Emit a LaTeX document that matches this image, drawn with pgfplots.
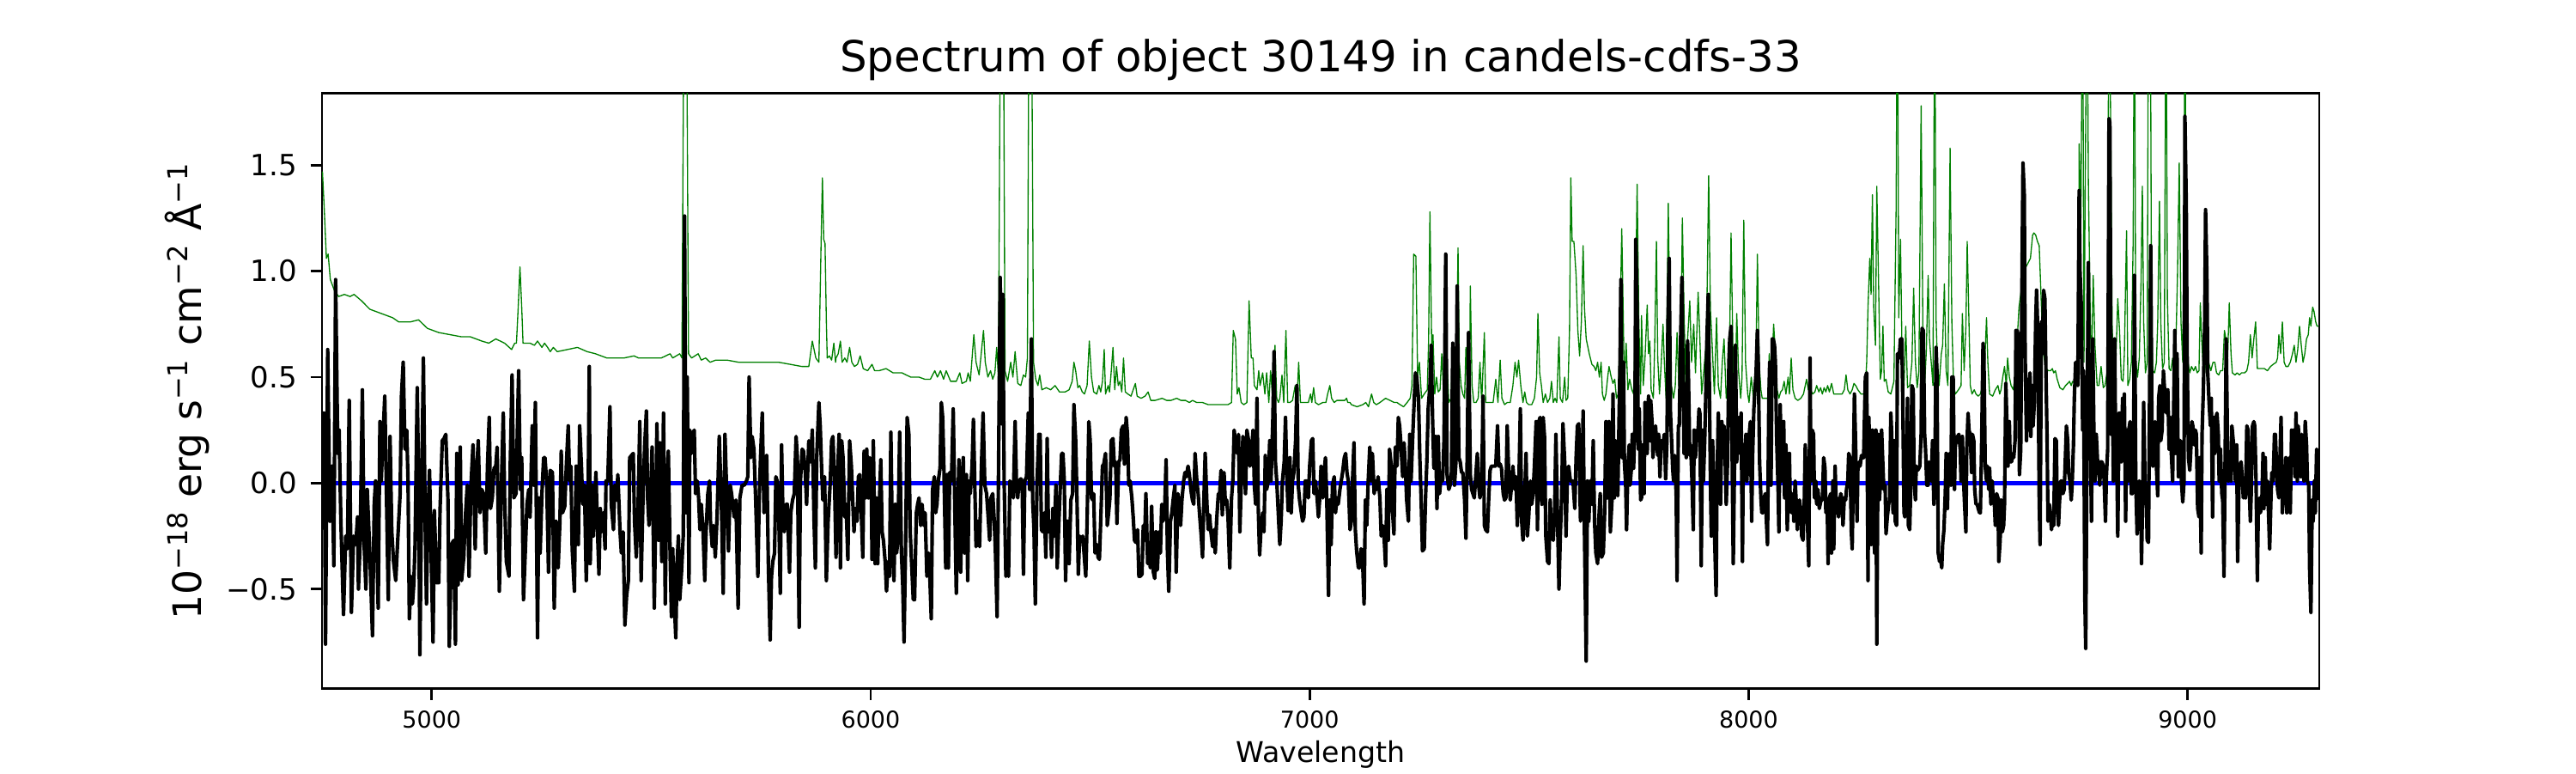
\documentclass[border=0pt]{standalone}
\usepackage{fontspec}
\setmainfont{DejaVu Sans}
\usepackage{pgfplots}
\pgfplotsset{compat=1.18}
\definecolor{mplgreen}{RGB}{0,128,0}
\definecolor{mplblue}{RGB}{0,0,255}
\begin{document}
\begin{tikzpicture}
\useasboundingbox (-1.25in,-0.3277in) rectangle (8.75in,2.6723in);
\begin{axis}[
  at={(0,0)}, anchor=south west,
  scale only axis, width=7.7533in, height=2.3113in,
  xmin=4750, xmax=9300, ymin=-0.97, ymax=1.84,
  axis line style={line width=0.65pt},
  every tick/.style={black, line width=0.65pt},
  tick align=outside, xtick pos=left, ytick pos=left,
  major tick length=3.2pt,
  xtick={5000,6000,7000,8000,9000},
  xticklabels={5000,6000,7000,8000,9000},
  ytick={-0.5,0,0.5,1,1.5},
  yticklabels={−0.5,0.0,0.5,1.0,1.5},
  xticklabel shift=2.8pt, yticklabel shift=3.6pt,
  xticklabel style={font=\fontsize{6.5}{8}\selectfont, inner sep=0pt, anchor=north},
  yticklabel style={font=\fontsize{8.2}{10}\selectfont, inner sep=0pt, anchor=east},
  title={Spectrum of object 30149 in candels-cdfs-33},
  title style={at={(0.5,1)}, anchor=base, font=\fontsize{12}{14}\selectfont},
  xlabel={Wavelength},
  xlabel style={at={(0.5,0)}, anchor=base, yshift=-20.6pt, font=\fontsize{8}{10}\selectfont},
  ylabel={10\textsuperscript{−18} erg s\textsuperscript{−1} cm\textsuperscript{−2} Å\textsuperscript{−1}},
  ylabel style={at={(-0.0602,0.5)}, anchor=base, font=\fontsize{11}{13}\selectfont},
]
\addplot[mplblue, line width=1.2pt] coordinates {(4781,0) (9287,0)};
\addplot[mplgreen, line width=0.32pt, line join=round] coordinates {
(4751,1.47)(4755,1.30)(4760,1.06)(4764,1.08)(4769,0.96)(4778,0.91)(4788,0.88)(4801,0.89)(4814,0.88)(4823,0.89)(4840,0.86)(4859,0.82)(4885,0.80)(4911,0.78)(4925,0.76)(4951,0.76)(4970,0.77)(4990,0.73)(5016,0.71)(5042,0.70)(5068,0.69)(5088,0.69)(5114,0.67)(5130,0.66)(5146,0.68)(5166,0.66)(5182,0.63)(5189,0.66)(5193,0.66)(5197,0.83)(5201,1.02)(5205,0.83)(5208,0.66)(5224,0.66)(5234,0.65)(5241,0.67)(5251,0.64)(5257,0.66)(5264,0.64)(5270,0.62)(5277,0.64)(5286,0.62)(5309,0.63)(5332,0.64)
(5354,0.62)(5373,0.61)(5399,0.59)(5419,0.59)(5438,0.59)(5461,0.60)(5471,0.59)(5497,0.59)(5523,0.59)(5543,0.61)(5549,0.59)(5565,0.61)(5570,0.59)(5575,2.5)(5580,2.5)(5585,0.61)(5592,0.59)(5607,0.61)(5614,0.58)(5624,0.59)(5634,0.57)(5647,0.58)(5673,0.58)(5699,0.57)(5725,0.57)(5764,0.57)(5790,0.57)(5817,0.56)(5843,0.55)(5859,0.55)(5867,0.67)(5875,0.59)(5882,0.57)(5887,1.13)(5890,1.44)(5893,1.15)(5896,1.13)(5899,0.76)(5901,0.59)(5906,0.60)(5911,0.58)(5916,0.66)(5920,0.57)
(5921,0.59)(5926,0.61)(5931,0.67)(5935,0.57)(5941,0.59)(5946,0.57)(5952,0.64)(5957,0.57)(5963,0.55)(5970,0.56)(5976,0.60)(5983,0.54)(5993,0.53)(6003,0.56)(6009,0.53)(6019,0.53)(6035,0.54)(6051,0.52)(6071,0.52)(6091,0.50)(6110,0.50)(6123,0.49)(6136,0.49)(6146,0.53)(6152,0.50)(6159,0.53)(6166,0.49)(6172,0.53)(6182,0.48)(6195,0.48)(6203,0.52)(6208,0.47)(6218,0.48)(6222,0.52)(6227,0.48)(6235,0.70)(6240,0.57)(6247,0.51)(6257,0.72)(6261,0.57)(6267,0.50)(6273,0.53)(6278,0.49)(6283,0.52)(6287,0.64)(6291,0.50)(6296,2.5)(6302,2.5)(6306,0.53)(6312,0.48)(6319,0.57)(6324,0.50)(6329,0.62)(6335,0.47)(6342,0.46)(6348,0.51)(6353,0.50)(6357,0.59)(6361,2.5)(6366,2.5)(6371,0.57)(6376,0.49)(6381,0.46)(6385,0.51)(6390,0.44)(6400,0.45)(6410,0.44)(6420,0.46)(6430,0.43)(6443,0.43)(6452,0.44)(6459,0.48)(6463,0.57)(6467,0.53)(6472,0.45)(6476,0.46)(6482,0.43)(6487,0.42)(6493,0.46)(6498,0.67)(6503,0.50)
(6508,0.43)(6515,0.42)(6520,0.46)(6524,0.43)(6528,0.48)(6532,0.63)(6535,0.42)(6541,0.46)(6544,0.43)(6547,0.50)(6552,0.64)(6556,0.44)(6560,0.55)(6564,0.46)(6568,0.48)(6572,0.43)(6576,0.59)(6580,0.43)(6586,0.42)(6593,0.41)(6598,0.44)(6603,0.47)(6607,0.41)(6616,0.40)(6625,0.41)(6632,0.43)(6638,0.39)(6648,0.39)(6664,0.40)(6674,0.39)(6684,0.39)(6697,0.40)(6707,0.39)(6717,0.39)(6726,0.38)(6733,0.39)(6743,0.38)(6756,0.38)(6769,0.37)(6785,0.37)(6795,0.37)(6814,0.37)(6822,0.38)(6826,0.72)(6831,0.68)(6835,0.42)(6839,0.45)(6844,0.38)(6850,0.37)(6857,0.38)(6862,0.86)(6867,0.59)(6871,0.59)(6874,0.46)(6880,0.44)(6884,0.53)(6887,0.46)(6893,0.52)(6898,0.42)(6902,0.52)(6907,0.38)(6911,0.53)(6916,0.39)(6921,0.65)(6925,0.40)(6929,0.38)(6932,0.40)(6937,0.51)(6941,0.38)(6946,0.72)(6950,0.38)(6955,0.38)(6961,0.39)(6967,0.46)(6971,0.38)(6975,0.57)(6979,0.38)(6984,0.38)(6990,0.38)(6997,0.38)(7002,0.42)(7005,0.38)(7009,0.45)(7013,0.38)(7020,0.37)(7030,0.38)(7037,0.38)(7041,0.42)(7046,0.46)(7050,0.40)(7056,0.38)(7062,0.39)(7069,0.39)(7075,0.39)(7080,0.39)(7084,0.40)(7087,0.38)(7092,0.38)
(7095,0.37)(7108,0.36)(7121,0.37)(7128,0.38)(7134,0.36)(7141,0.42)(7146,0.38)(7152,0.37)(7160,0.38)(7173,0.40)(7183,0.39)(7193,0.38)(7199,0.38)(7206,0.37)(7214,0.36)(7222,0.38)(7229,0.40)(7233,0.46)(7237,1.08)(7242,1.07)(7246,0.50)(7250,0.57)(7255,0.40)(7261,0.42)(7268,0.44)(7271,0.67)(7274,1.28)(7278,0.65)(7281,0.70)(7285,0.42)(7289,0.50)(7293,0.43)(7297,0.44)(7301,0.61)(7305,0.42)(7309,0.38)(7313,0.57)(7317,0.38)(7322,0.40)(7326,0.66)(7330,0.44)(7334,0.46)(7338,1.11)(7341,0.57)(7345,0.46)(7349,0.42)(7353,0.40)(7356,0.64)(7360,0.42)(7364,0.40)(7366,0.93)(7370,0.46)(7374,0.38)(7379,0.38)(7384,0.40)(7388,0.57)(7392,0.38)(7398,0.71)(7401,0.38)(7405,0.38)(7411,0.38)(7418,0.38)(7424,0.49)(7429,0.38)(7434,0.58)(7438,0.40)(7444,0.37)(7450,0.38)(7457,0.38)(7463,0.46)(7468,0.57)(7472,0.50)(7476,0.58)(7481,0.46)(7486,0.38)(7490,0.43)(7494,0.38)(7499,0.37)(7506,0.37)(7512,0.40)(7517,0.50)(7520,0.80)(7524,0.52)(7528,0.46)(7532,0.38)(7537,0.42)(7542,0.38)(7547,0.40)(7551,0.48)(7555,0.38)(7559,0.40)(7563,0.38)(7568,0.69)(7571,0.40)(7576,0.38)(7581,0.50)(7584,0.39)(7588,0.40)(7592,0.72)(7595,1.44)(7598,1.14)(7602,1.14)(7607,0.98)(7611,0.72)(7615,0.60)(7619,0.76)(7623,1.12)(7626,0.83)(7630,0.68)(7633,0.65)(7637,0.61)(7643,0.56)(7648,0.55)(7652,0.53)(7656,0.57)(7660,0.50)(7664,0.57)(7667,0.42)(7671,0.39)(7675,0.42)(7679,0.50)
(7682,0.55)(7687,0.50)(7691,0.47)(7695,0.49)(7699,0.40)(7703,0.42)(7707,0.72)(7711,1.20)(7713,0.97)(7717,0.46)(7721,0.66)(7725,0.44)(7729,0.49)(7734,0.44)(7738,0.42)(7742,0.76)(7746,1.41)(7750,0.76)(7754,0.42)(7756,0.79)(7760,0.46)(7764,0.59)(7769,0.84)(7772,0.61)(7775,0.67)(7778,0.44)(7783,0.40)(7786,0.65)(7790,1.14)(7793,0.59)(7797,0.42)(7801,0.57)(7805,0.75)(7808,0.57)(7812,0.40)(7817,1.32)(7821,0.67)(7824,0.46)(7829,0.40)(7833,0.46)(7837,0.71)(7841,0.46)(7845,0.44)(7849,1.25)(7853,0.80)(7857,0.44)(7861,0.68)(7866,0.86)(7870,0.57)(7875,0.75)(7879,0.52)(7885,0.90)(7889,0.68)(7893,0.42)(7898,0.53)(7904,0.68)(7909,1.45)(7913,0.82)(7917,0.65)(7922,0.42)(7927,0.78)(7931,0.46)(7936,0.40)(7940,0.57)(7944,0.68)(7949,0.40)(7956,0.53)(7960,1.18)(7965,0.53)(7969,0.40)(7973,0.80)(7977,0.53)(7982,0.40)(7985,0.50)(7989,1.24)(7993,0.57)(7998,0.42)(8001,0.38)(8006,0.50)(8011,0.40)(8016,0.46)(8020,1.08)(8024,0.57)(8028,0.44)(8031,0.40)(8037,0.40)(8044,0.40)(8047,0.61)(8051,0.42)(8057,0.75)(8060,0.65)(8065,0.44)(8069,0.40)(8073,0.43)(8077,0.44)(8081,0.48)(8085,0.42)(8090,0.50)(8093,0.42)(8097,0.59)(8101,0.44)(8106,0.40)(8112,0.39)(8119,0.40)(8125,0.42)(8132,0.49)(8136,0.44)(8141,0.44)(8146,0.42)(8151,0.43)(8155,0.46)(8160,0.43)(8164,0.45)(8168,0.42)(8172,0.45)(8176,0.43)(8180,0.46)(8184,0.43)(8189,0.47)(8194,0.42)(8200,0.42)(8207,0.42)(8213,0.42)(8218,0.44)(8222,0.51)(8226,0.44)(8231,0.42)(8236,0.44)(8240,0.47)(8244,0.46)(8249,0.44)(8256,0.42)(8262,0.42)(8266,0.46)
(8269,0.57)(8272,0.83)(8276,1.06)(8279,0.89)(8282,1.36)(8285,0.83)(8289,0.65)(8292,1.40)(8296,0.95)(8300,0.49)(8303,0.53)(8306,0.74)(8309,0.48)(8313,0.49)(8318,0.43)(8324,0.42)(8331,0.48)(8336,1.29)(8339,2.5)(8342,0.78)(8346,1.15)(8350,0.53)(8354,0.46)(8358,0.74)(8362,0.45)(8367,0.46)(8372,0.57)(8376,0.92)(8380,0.57)(8384,0.45)(8388,0.53)(8393,1.78)(8397,0.72)(8401,0.46)(8405,0.63)(8409,0.98)(8412,0.68)(8416,0.57)(8420,0.46)(8424,2.5)(8427,0.78)(8430,0.57)(8434,0.46)(8439,0.61)(8442,0.65)(8446,0.94)(8450,0.53)(8454,0.46)(8459,1.58)(8463,0.76)(8467,0.46)(8471,0.42)(8478,0.44)(8484,0.46)(8487,0.80)(8491,0.53)(8495,0.74)(8498,1.14)(8502,0.76)(8505,0.46)(8509,0.42)(8514,0.44)(8518,0.42)(8523,0.41)(8528,0.42)(8533,0.46)(8538,0.57)(8542,0.78)(8545,0.57)(8549,0.42)(8556,0.41)(8562,0.44)(8568,0.46)(8572,0.42)(8575,0.44)(8579,0.50)(8583,0.55)(8587,0.46)(8590,0.59)(8594,0.50)(8598,0.46)(8603,0.44)(8608,0.53)(8612,0.68)(8616,0.83)(8621,0.91)(8626,1.00)(8632,1.02)(8637,1.04)(8642,1.06)(8647,1.17)(8650,1.18)(8654,1.17)(8658,1.14)(8662,1.12)(8665,0.95)(8669,0.72)(8673,0.59)(8678,0.54)(8683,0.53)(8688,0.53)(8692,0.54)(8695,0.52)(8699,0.53)(8703,0.49)(8709,0.45)(8716,0.44)(8722,0.46)(8727,0.47)(8731,0.48)(8735,0.46)(8738,0.48)(8744,0.47)(8748,0.50)(8751,0.53)(8753,1.60)(8757,1.25)(8761,2.5)(8764,0.57)(8767,1.45)(8771,2.5)(8774,1.42)(8778,0.83)(8781,0.53)(8785,0.98)(8789,0.65)(8794,0.46)(8798,0.46)(8803,0.55)(8808,0.45)(8812,0.46)(8817,0.53)(8821,2.5)(8825,1.66)(8828,0.76)(8832,0.46)(8836,0.53)(8841,0.87)(8845,0.72)(8849,0.49)(8853,0.48)
(8856,0.61)(8861,1.19)(8864,0.46)(8868,0.49)(8872,0.57)(8876,1.14)(8879,2.5)(8882,0.57)(8886,0.50)(8890,0.59)(8894,0.95)(8897,1.40)(8900,0.76)(8904,0.52)(8908,0.57)(8911,2.5)(8915,2.5)(8918,0.72)(8921,0.53)(8925,0.52)(8929,0.57)(8932,0.76)(8936,1.33)(8939,0.76)(8943,0.54)(8947,0.57)(8951,2.5)(8954,0.87)(8958,0.54)(8962,0.53)(8966,0.59)(8969,0.53)(8973,0.61)(8977,0.98)(8981,1.51)(8985,0.76)(8989,0.57)(8992,1.32)(8994,2.5)(8997,0.83)(9001,0.57)(9005,0.52)(9009,0.55)(9014,0.53)(9018,0.55)(9022,0.52)(9026,0.53)(9029,0.85)(9032,0.68)(9036,0.53)(9040,0.57)(9044,0.50)(9048,0.57)(9053,0.53)(9058,0.57)(9062,0.57)(9066,0.52)(9071,0.51)(9075,0.53)(9080,0.53)(9084,0.72)(9088,0.67)(9091,0.57)(9095,0.85)(9099,0.61)(9102,0.52)(9108,0.51)(9113,0.52)(9118,0.51)(9123,0.52)(9130,0.52)(9135,0.53)(9139,0.57)(9143,0.70)(9147,0.59)(9151,0.68)(9155,0.76)(9159,0.54)(9164,0.54)(9169,0.54)(9175,0.54)(9182,0.53)(9189,0.55)(9195,0.56)(9202,0.57)(9205,0.59)(9208,0.70)(9212,0.61)(9216,0.76)(9220,0.57)(9224,0.55)(9229,0.55)(9234,0.57)(9239,0.61)(9243,0.65)(9247,0.57)(9251,0.63)(9255,0.74)(9259,0.65)(9263,0.57)(9267,0.61)(9271,0.68)(9275,0.70)(9278,0.78)(9281,0.74)(9285,0.83)(9288,0.81)(9292,0.76)(9295,0.74)(9299,0.74)
};
\addplot[black, line width=1pt, line join=round] coordinates {
(4751,0.33)(4755,0.33)(4758,-0.76)(4763,0.63)(4768,-0.18)(4773,0.08)(4777,-0.39)(4781,0.96)(4786,0.14)(4789,0.25)(4793,-0.18)(4799,-0.62)(4804,-0.25)(4808,-0.31)(4812,0.39)(4817,-0.61)(4822,-0.25)(4827,-0.29)(4831,-0.16)(4833,-0.50)(4837,-0.27)(4842,0.44)(4846,-0.29)(4850,-0.50)(4853,-0.03)(4856,-0.18)(4859,-0.33)(4865,-0.72)(4869,-0.10)(4872,0.01)(4878,-0.59)(4882,0.29)(4885,0.01)(4889,0.22)(4893,0.41)(4897,-0.07)(4901,-0.55)(4905,0.22)(4909,-0.23)(4913,-0.37)(4918,-0.46)(4922,-0.29)(4928,-0.05)(4931,0.41)(4935,0.57)(4939,0.16)(4943,0.25)(4946,0.01)(4949,-0.64)(4953,-0.44)(4956,-0.57)(4959,-0.48)(4962,-0.29)(4967,0.45)(4970,0.01)(4973,-0.81)(4977,-0.05)(4981,0.59)(4985,-0.18)(4988,-0.57)(4991,-0.18)(4995,0.06)(4999,-0.37)(5003,-0.75)(5006,-0.13)(5011,-0.47)(5016,-0.47)(5019,-0.12)(5024,0.20)(5028,0.21)(5032,0.23)(5037,-0.08)(5040,-0.77)(5045,-0.29)(5050,-0.27)(5054,-0.76)(5057,0.14)(5060,-0.48)(5065,0.17)(5068,-0.46)(5073,-0.35)(5076,-0.18)(5081,-0.01)(5085,-0.44)(5089,-0.03)(5094,0.18)(5099,-0.31)(5103,0.08)(5106,0.20)(5110,-0.14)(5114,-0.03)(5118,-0.05)(5123,-0.33)(5127,0.08)(5131,0.31)(5134,-0.12)(5138,-0.07)(5142,0.07)(5146,0.08)(5149,0.17)(5154,-0.51)(5158,-0.07)(5163,0.33)(5166,-0.07)(5170,-0.37)(5176,-0.44)(5179,0.10)(5183,0.51)(5187,-0.07)(5192,-0.05)(5198,0.53)(5202,-0.03)(5205,0.12)(5209,-0.55)(5213,-0.33)(5217,-0.10)(5221,-0.03)(5224,-0.16)(5229,0.27)(5233,-0.01)(5236,0.38)(5241,-0.73)(5244,-0.07)(5247,-0.33)(5251,-0.05)(5255,0.12)(5258,0.12)(5262,0.00)(5266,-0.42)(5270,0.06)(5275,0.05)(5279,-0.59)(5283,-0.18)(5288,-0.40)(5292,-0.18)(5295,0.15)(5298,-0.14)(5303,-0.11)(5307,0.10)(5311,0.27)(5314,0.01)(5317,0.08)(5320,-0.31)(5325,-0.51)(5329,0.08)
(5334,-0.29)(5337,0.27)(5341,0.08)(5344,-0.10)(5348,-0.01)(5352,-0.46)(5356,-0.12)(5359,0.55)(5361,-0.38)(5365,-0.01)(5368,-0.25)(5371,-0.12)(5374,0.05)(5378,-0.25)(5381,-0.43)(5384,-0.12)(5387,-0.23)(5391,-0.14)(5395,-0.31)(5397,0.01)(5401,0.01)(5406,0.36)(5409,-0.10)(5414,-0.22)(5417,-0.01)(5421,-0.08)(5424,0.04)(5429,-0.23)(5432,-0.33)(5436,-0.23)(5440,-0.67)(5444,-0.53)(5448,-0.46)(5451,0.12)(5455,0.13)(5459,0.14)(5462,-0.18)(5466,-0.35)(5470,-0.12)(5474,0.29)(5477,-0.46)(5481,-0.10)(5485,0.17)(5489,0.34)(5492,-0.08)(5495,-0.20)(5498,-0.10)(5502,0.17)(5507,-0.59)(5510,-0.18)(5513,0.28)(5517,-0.27)(5520,0.19)(5524,-0.37)(5528,0.33)(5532,-0.57)(5535,-0.08)(5539,0.15)(5543,-0.33)(5546,-0.63)(5549,-0.31)(5552,-0.53)(5556,-0.73)(5559,-0.37)(5562,-0.25)(5565,-0.55)(5569,-0.42)(5573,-0.25)(5576,1.26)(5579,-0.14)(5582,0.50)(5586,-0.47)(5588,0.25)(5592,0.14)(5595,0.23)(5598,0.25)(5601,-0.05)(5605,0.01)(5608,-0.07)(5611,-0.22)(5614,-0.10)(5618,-0.22)(5622,-0.46)(5625,-0.23)(5629,-0.05)(5633,0.01)(5635,-0.18)(5639,-0.30)(5642,-0.20)(5646,-0.35)(5650,-0.16)(5655,0.22)(5660,-0.10)(5664,-0.52)(5668,0.23)(5672,-0.05)(5676,-0.32)(5680,-0.01)(5683,-0.05)(5689,-0.16)(5693,-0.08)(5698,-0.59)(5702,-0.07)(5707,-0.01)(5712,-0.01)(5717,0.01)(5720,0.03)(5723,0.50)(5727,0.12)(5730,0.22)(5734,0.16)(5738,-0.08)(5743,-0.44)(5746,-0.08)(5749,0.12)(5753,0.33)(5757,-0.14)(5760,-0.12)(5763,0.13)(5767,-0.40)(5771,-0.74)(5774,-0.44)(5777,-0.37)(5781,-0.33)(5784,0.03)(5787,0.01)(5790,-0.08)(5794,-0.52)(5797,0.18)(5800,-0.14)(5803,-0.23)(5807,-0.10)(5810,-0.10)(5815,-0.42)(5818,-0.14)(5822,-0.08)(5826,-0.05)(5830,0.22)(5833,0.12)(5837,-0.68)(5840,0.01)(5844,0.16)(5847,0.15)(5851,0.05)(5854,-0.10)(5859,0.20)(5863,0.10)(5867,0.25)(5871,-0.18)(5874,-0.40)(5877,0.12)(5882,0.38)(5885,0.27)(5888,0.08)(5891,-0.08)(5895,0.03)(5899,-0.46)(5903,-0.18)(5908,0.01)(5911,0.20)(5914,0.22)(5918,-0.03)
(5921,-0.35)(5924,0.01)(5928,0.23)(5931,-0.40)(5934,0.20)(5937,0.12)(5941,-0.16)(5944,-0.10)(5948,-0.36)(5952,0.20)(5956,0.08)(5959,-0.08)(5962,-0.23)(5965,-0.12)(5969,-0.18)(5972,0.03)(5975,0.04)(5978,-0.10)(5982,-0.35)(5985,0.15)(5988,-0.07)(5991,0.16)(5995,-0.07)(5998,0.12)(6001,0.08)(6003,-0.36)(6006,0.20)(6010,-0.38)(6013,-0.07)(6016,-0.38)(6019,-0.14)(6023,0.11)(6026,-0.23)(6029,-0.27)(6033,-0.37)(6036,-0.51)(6040,-0.37)(6043,-0.44)(6046,0.24)(6049,-0.23)(6053,-0.46)(6056,-0.10)(6059,-0.33)(6062,-0.27)(6066,0.24)(6070,-0.33)(6073,-0.48)(6076,-0.75)(6080,-0.22)(6083,0.31)(6087,0.23)(6090,-0.23)(6093,-0.37)(6097,-0.55)(6100,-0.55)(6104,-0.14)(6107,-0.10)(6110,-0.07)(6114,-0.20)(6117,-0.10)(6121,-0.20)(6124,-0.14)(6128,-0.44)(6132,-0.33)(6135,-0.46)(6138,-0.64)(6141,-0.03)(6145,0.03)(6148,-0.14)(6151,-0.10)(6154,0.01)(6158,0.07)(6161,0.38)(6164,0.31)(6167,0.05)(6171,-0.40)(6174,0.04)(6177,-0.40)(6180,0.05)(6184,0.01)(6188,0.35)(6192,-0.16)(6195,-0.52)(6198,-0.18)(6201,0.11)(6205,-0.42)(6208,0.01)(6211,0.12)(6214,-0.33)(6218,0.04)(6221,-0.46)(6224,0.01)(6227,-0.05)(6231,0.08)(6234,0.30)(6237,0.01)(6240,-0.30)(6244,-0.18)(6248,-0.30)(6252,0.06)(6256,0.33)(6260,-0.01)(6264,-0.05)(6267,-0.14)(6271,-0.27)(6274,-0.07)(6278,-0.05)(6281,-0.16)(6284,-0.31)(6288,-0.63)(6291,0.01)(6295,0.97)(6298,0.28)(6301,0.89)(6304,0.01)(6308,-0.44)(6311,-0.42)(6314,-0.44)(6317,0.01)(6321,-0.01)(6325,-0.07)(6329,0.29)(6332,0.01)(6335,-0.07)(6338,0.01)(6342,0.02)(6345,0.01)(6348,-0.43)(6351,0.01)(6355,0.03)(6359,0.33)(6362,-0.03)(6366,0.68)(6369,-0.08)(6372,-0.22)(6375,-0.57)(6379,0.01)(6383,0.23)(6386,0.23)(6389,-0.22)(6392,-0.23)(6396,-0.14)(6399,-0.35)(6402,0.21)(6405,-0.23)(6409,-0.18)(6412,-0.35)(6415,-0.12)(6418,-0.25)(6422,-0.01)(6425,-0.40)(6428,-0.22)(6432,-0.01)(6435,0.14)(6438,0.14)(6441,0.01)(6444,-0.46)(6447,-0.18)(6449,-0.18)(6452,-0.38)(6456,-0.08)(6460,-0.05)(6463,0.37)(6467,0.20)(6470,-0.08)(6473,-0.43)(6476,-0.25)(6480,-0.27)(6483,-0.25)(6486,-0.33)(6490,-0.44)(6493,-0.18)(6497,0.29)(6500,0.20)(6503,-0.07)(6506,-0.08)
(6508,-0.05)(6511,-0.33)(6515,-0.29)(6518,-0.35)(6521,-0.36)(6524,-0.18)(6528,0.08)(6531,0.09)(6535,0.14)(6539,-0.20)(6542,-0.14)(6545,-0.07)(6548,0.20)(6552,0.21)(6555,0.08)(6558,0.10)(6561,-0.19)(6565,0.10)(6568,0.11)(6571,0.25)(6575,0.27)(6578,0.09)(6582,0.31)(6585,0.23)(6588,-0.01)(6591,0.01)(6595,-0.07)(6598,-0.16)(6601,-0.27)(6604,-0.28)(6608,-0.22)(6611,-0.44)(6614,-0.44)(6618,-0.43)(6621,-0.20)(6624,-0.27)(6627,-0.05)(6631,-0.38)(6634,-0.31)(6637,-0.40)(6640,-0.11)(6644,-0.42)(6647,-0.45)(6650,-0.23)(6653,-0.41)(6657,-0.23)(6660,-0.33)(6663,-0.10)(6666,-0.18)(6670,-0.10)(6673,0.11)(6676,-0.32)(6679,-0.51)(6683,-0.18)(6686,-0.14)(6689,-0.08)(6693,-0.01)(6696,-0.42)(6700,-0.05)(6703,-0.10)(6706,-0.20)(6709,-0.08)(6713,0.01)(6716,0.05)(6719,0.03)(6723,0.08)(6726,0.04)(6730,-0.04)(6733,-0.08)(6736,-0.10)(6739,0.14)(6743,0.01)(6746,-0.05)(6749,-0.14)(6753,-0.25)(6756,-0.35)(6759,-0.08)(6762,0.14)(6766,-0.10)(6769,-0.22)(6772,-0.15)(6775,-0.23)(6779,-0.30)(6782,-0.22)(6785,-0.33)(6788,-0.18)(6792,-0.05)(6795,-0.05)(6798,0.06)(6801,-0.15)(6805,0.05)(6808,-0.10)(6811,-0.08)(6814,-0.16)(6818,-0.40)(6822,-0.07)(6825,0.01)(6828,0.25)(6831,0.19)(6835,0.14)(6838,0.23)(6841,-0.23)(6844,-0.01)(6848,0.22)(6851,0.08)(6854,-0.05)(6857,0.25)(6861,0.20)(6864,0.08)(6867,0.12)(6871,0.25)(6874,-0.01)(6877,-0.10)(6880,0.40)(6883,-0.12)(6886,-0.34)(6889,-0.22)(6893,-0.14)(6896,-0.23)(6899,0.13)(6902,-0.03)(6906,0.01)(6909,0.20)(6912,0.01)(6916,0.29)(6919,0.62)(6922,0.10)(6925,0.01)(6929,-0.16)(6932,-0.29)(6935,-0.18)(6938,0.01)(6942,0.10)(6945,0.31)(6948,0.03)(6951,-0.13)(6955,0.12)(6958,-0.14)(6961,0.01)(6964,0.05)(6968,0.20)(6971,0.46)(6974,-0.01)(6977,-0.08)(6981,-0.14)(6984,-0.18)(6987,-0.16)(6990,0.01)(6994,0.01)(6997,-0.07)(7000,0.08)(7004,0.20)(7007,0.21)(7010,-0.05)(7013,0.01)(7017,-0.07)(7020,-0.16)(7023,-0.07)(7026,0.08)(7030,-0.07)(7033,0.05)(7036,0.12)(7039,-0.08)(7043,-0.53)(7046,-0.08)(7049,-0.29)(7052,-0.01)(7056,0.03)(7059,-0.14)(7062,-0.07)(7065,-0.10)(7069,-0.03)(7072,0.01)(7075,0.05)(7079,0.12)(7082,0.14)(7085,0.05)(7088,0.01)(7092,-0.22)
(7095,-0.18)(7098,0.03)(7101,0.19)(7104,-0.22)(7107,-0.32)(7111,-0.40)(7114,-0.40)(7117,-0.31)(7120,-0.33)(7124,-0.57)(7127,-0.08)(7130,-0.20)(7133,-0.01)(7137,0.17)(7140,0.01)(7143,0.14)(7147,-0.05)(7150,0.01)(7153,-0.03)(7156,0.03)(7160,-0.07)(7163,-0.25)(7166,-0.20)(7169,-0.23)(7173,-0.39)(7176,-0.03)(7179,-0.27)(7182,0.16)(7186,0.08)(7189,-0.14)(7192,-0.24)(7195,0.17)(7199,0.08)(7202,0.31)(7205,0.27)(7208,0.18)(7212,0.03)(7215,0.19)(7218,0.08)(7221,-0.08)(7225,-0.18)(7228,0.23)(7231,0.01)(7235,0.23)(7238,0.38)(7241,0.52)(7244,0.50)(7248,0.40)(7251,0.12)(7254,-0.08)(7257,-0.32)(7261,-0.31)(7264,-0.07)(7267,0.10)(7270,0.35)(7274,0.46)(7277,0.65)(7280,0.31)(7283,0.07)(7287,0.22)(7290,-0.12)(7293,0.22)(7296,-0.05)(7300,0.05)(7303,0.01)(7306,0.20)(7310,1.08)(7313,0.04)(7317,-0.03)(7320,-0.01)(7323,0.05)(7326,0.66)(7330,-0.01)(7333,0.09)(7336,0.93)(7340,0.12)(7343,0.10)(7346,0.05)(7349,0.05)(7353,-0.08)(7356,-0.26)(7359,0.14)(7362,0.71)(7366,0.04)(7369,-0.03)(7372,-0.05)(7375,-0.07)(7379,0.05)(7382,0.14)(7385,-0.01)(7388,-0.07)(7392,-0.01)(7395,0.41)(7398,-0.20)(7401,-0.22)(7405,-0.23)(7408,-0.07)(7411,0.06)(7414,0.08)(7418,0.08)(7421,0.08)(7424,0.08)(7428,0.27)(7431,0.08)(7434,0.09)(7437,0.07)(7441,-0.05)(7444,-0.08)(7447,-0.07)(7450,0.27)(7454,0.01)(7457,-0.08)(7460,-0.01)(7463,0.08)(7467,-0.03)(7470,0.03)(7473,-0.20)(7476,-0.07)(7480,0.35)(7483,-0.18)(7486,-0.27)(7489,-0.12)(7493,0.14)(7496,-0.25)(7499,-0.16)(7503,0.01)(7506,-0.10)(7509,-0.05)(7512,0.08)(7516,0.29)(7519,-0.22)(7522,0.29)(7525,0.31)(7529,-0.10)(7532,0.31)(7535,0.22)(7538,-0.25)(7542,-0.37)(7545,-0.38)(7548,-0.08)(7551,-0.25)(7555,-0.27)(7558,-0.14)(7561,0.23)(7564,-0.10)(7568,-0.50)(7571,-0.25)(7574,-0.07)(7577,0.28)(7581,0.10)(7584,-0.25)(7587,0.01)(7590,0.08)(7594,0.01)(7597,0.01)(7600,0.01)(7604,-0.12)(7607,0.12)(7610,0.27)(7613,0.28)(7617,-0.18)(7620,-0.08)(7623,0.34)(7626,-0.22)(7630,-0.84)(7633,0.01)(7636,-0.18)(7639,0.01)(7643,-0.10)(7646,0.20)(7649,-0.18)(7652,-0.33)(7656,-0.38)(7659,-0.16)(7662,-0.05)(7665,-0.35)(7669,-0.33)(7672,-0.14)(7675,0.29)(7678,-0.07)
(7682,0.29)(7685,-0.23)(7689,-0.07)(7691,0.42)(7694,-0.07)(7696,0.20)(7699,-0.01)(7702,-0.06)(7704,0.20)(7707,0.57)(7709,0.96)(7712,0.12)(7715,0.57)(7717,0.10)(7720,-0.01)(7722,-0.22)(7725,0.08)(7728,0.18)(7730,-0.01)(7733,0.07)(7735,0.23)(7738,0.07)(7741,0.27)(7743,1.15)(7746,0.83)(7749,0.16)(7751,0.35)(7754,-0.08)(7756,-0.07)(7759,0.18)(7762,-0.05)(7764,0.38)(7767,0.27)(7769,0.14)(7772,0.41)(7775,0.20)(7777,0.39)(7780,0.29)(7782,0.12)(7785,0.20)(7788,0.27)(7790,0.20)(7793,0.13)(7795,0.23)(7798,0.03)(7801,0.20)(7803,0.16)(7806,0.20)(7808,0.23)(7811,0.02)(7814,0.20)(7816,0.73)(7819,1.06)(7822,0.33)(7824,0.23)(7827,0.07)(7829,0.01)(7832,0.13)(7835,-0.06)(7837,-0.46)(7840,0.27)(7842,0.27)(7845,0.67)(7848,0.97)(7850,0.61)(7853,0.14)(7855,0.23)(7858,0.12)(7861,0.67)(7863,0.50)(7866,0.13)(7868,0.18)(7871,0.01)(7874,-0.22)(7876,0.25)(7879,0.12)(7882,0.25)(7884,0.20)(7887,0.35)(7889,0.33)(7892,-0.39)(7895,0.25)(7897,0.01)(7900,0.20)(7902,0.38)(7905,0.68)(7908,0.89)(7910,0.57)(7913,0.01)(7915,-0.25)(7918,0.20)(7921,-0.03)(7923,-0.29)(7926,-0.53)(7928,0.01)(7931,0.33)(7934,-0.01)(7936,-0.10)(7939,0.29)(7941,0.16)(7944,0.27)(7947,0.08)(7949,-0.10)(7952,0.10)(7955,0.57)(7957,0.68)(7960,0.74)(7962,0.23)(7965,-0.38)(7968,0.11)(7970,0.65)(7973,0.10)(7975,0.27)(7978,0.31)(7981,0.14)(7983,0.33)(7986,-0.37)(7988,0.18)(7991,0.12)(7994,0.23)(7996,0.01)(7999,0.14)(8001,0.22)(8004,0.29)(8007,-0.18)(8009,0.12)(8012,0.35)(8015,0.46)(8017,0.52)(8020,0.72)(8022,0.57)(8025,0.10)(8028,-0.07)(8030,-0.14)(8033,-0.14)(8035,-0.07)(8038,-0.05)(8041,-0.20)(8043,-0.29)(8046,0.38)(8048,0.57)(8051,-0.01)(8054,0.68)(8056,0.68)(8059,0.65)(8061,0.57)(8064,0.20)(8067,-0.01)(8069,-0.23)(8072,0.37)(8075,0.01)(8077,0.18)(8080,0.29)(8082,-0.07)(8085,0.18)(8088,-0.22)(8090,-0.08)(8093,0.14)(8095,-0.12)(8098,-0.14)(8101,-0.05)(8103,-0.18)(8106,0.01)(8108,-0.07)(8111,-0.22)(8114,-0.10)(8116,-0.08)(8119,-0.14)(8121,-0.25)(8124,-0.27)(8127,-0.07)(8129,0.18)(8132,-0.10)(8134,-0.18)(8137,-0.39)(8140,0.59)(8142,0.01)(8145,0.25)(8148,0.23)(8150,-0.07)(8153,0.01)(8155,-0.10)(8158,-0.03)(8161,-0.12)(8163,-0.10)(8166,-0.07)(8168,-0.08)(8171,0.12)(8174,0.07)(8176,-0.14)(8179,-0.08)(8181,-0.38)(8184,-0.07)(8187,-0.05)(8189,-0.33)(8192,0.01)(8194,-0.31)(8197,0.08)(8200,-0.14)(8202,-0.07)(8205,-0.16)(8208,-0.08)(8210,-0.05)(8213,-0.08)(8215,-0.20)(8218,-0.07)(8221,-0.08)(8223,-0.03)(8226,0.01)(8228,0.14)(8231,0.12)(8234,-0.23)(8236,-0.31)(8239,0.12)(8241,0.42)(8244,0.16)(8247,-0.18)(8249,0.07)(8252,0.10)(8254,0.08)(8257,0.13)(8260,0.12)(8262,0.12)(8266,0.50)
(8269,0.52)(8272,-0.46)(8274,0.31)(8277,0.01)(8279,-0.29)(8282,0.25)(8285,-0.10)(8287,-0.33)(8290,0.25)(8292,-0.76)(8295,0.23)(8298,-0.08)(8300,-0.01)(8303,0.25)(8306,0.08)(8308,-0.03)(8311,-0.01)(8313,-0.24)(8316,-0.16)(8319,-0.10)(8321,-0.08)(8324,0.33)(8326,0.23)(8329,-0.14)(8332,0.20)(8334,-0.18)(8337,-0.20)(8339,0.61)(8343,0.59)(8346,0.68)(8349,0.68)(8351,0.42)(8354,-0.14)(8356,-0.16)(8359,0.01)(8362,0.40)(8364,-0.20)(8367,-0.22)(8369,-0.05)(8372,0.46)(8375,0.44)(8377,0.01)(8380,-0.08)(8382,0.08)(8385,0.06)(8388,0.07)(8390,0.08)(8393,0.23)(8395,0.73)(8398,0.72)(8401,0.23)(8403,0.16)(8406,-0.01)(8409,-0.01)(8411,0.10)(8414,0.05)(8416,0.01)(8419,0.20)(8422,-0.10)(8424,-0.01)(8427,0.64)(8429,0.53)(8432,-0.33)(8435,-0.37)(8437,-0.35)(8440,-0.40)(8442,-0.29)(8445,-0.22)(8448,-0.05)(8450,0.14)(8453,-0.12)(8455,0.12)(8458,0.14)(8461,-0.01)(8463,0.50)(8466,0.50)(8469,-0.03)(8471,0.18)(8474,0.20)(8476,0.22)(8479,0.23)(8482,0.16)(8484,0.01)(8487,0.22)(8489,0.05)(8492,-0.10)(8495,-0.23)(8497,0.16)(8500,0.33)(8502,0.25)(8505,0.23)(8508,0.05)(8510,0.23)(8513,0.20)(8515,-0.03)(8518,-0.10)(8521,-0.10)(8523,-0.12)(8526,-0.14)(8528,-0.14)(8531,0.20)(8534,0.66)(8536,0.61)(8539,0.08)(8542,0.01)(8544,0.08)(8547,-0.03)(8549,0.07)(8552,-0.10)(8555,0.01)(8557,-0.07)(8560,-0.10)(8562,-0.20)(8565,-0.05)(8568,-0.07)(8570,-0.37)(8573,-0.27)(8575,-0.08)(8578,-0.23)(8581,-0.20)(8583,-0.10)(8586,0.47)(8588,0.31)(8591,0.08)(8594,0.29)(8596,0.10)(8599,0.10)(8602,0.14)(8604,0.12)(8607,0.20)(8609,0.72)(8612,0.72)(8615,0.68)(8617,0.04)(8620,0.16)(8622,0.76)(8625,1.51)(8628,1.36)(8630,0.61)(8633,0.20)(8635,0.31)(8638,0.46)(8641,0.52)(8643,0.22)(8646,0.46)(8648,0.27)(8651,0.38)(8654,0.76)(8656,0.91)(8659,0.70)(8662,-0.08)(8664,-0.29)(8667,0.76)(8669,0.61)(8672,0.91)(8675,0.87)(8677,0.57)(8680,0.20)(8682,-0.18)(8685,-0.10)(8688,-0.16)(8690,-0.22)(8693,-0.16)(8695,-0.20)(8698,0.21)(8701,0.20)(8703,-0.12)(8706,-0.20)(8708,-0.10)(8711,0.01)(8714,0.01)(8716,-0.05)(8719,-0.03)(8721,0.08)(8724,0.27)(8727,0.20)(8729,0.05)(8732,0.01)(8735,-0.08)(8737,-0.01)(8740,0.18)(8742,0.40)(8745,0.57)(8748,0.50)(8750,0.46)(8753,1.38)(8755,1.00)(8758,0.83)(8761,0.25)(8763,0.53)(8766,-0.55)(8768,-0.78)(8771,0.25)(8774,1.04)(8776,0.27)(8779,0.16)(8781,-0.18)(8784,0.68)(8787,0.18)(8789,0.01)(8792,0.23)(8795,0.10)(8797,0.08)(8800,-0.01)(8802,0.10)(8805,0.10)(8808,0.08)(8810,0.01)(8813,-0.18)(8815,0.03)(8818,0.16)(8821,1.72)(8823,1.70)(8826,0.23)(8828,0.61)(8831,0.01)(8834,0.68)(8836,0.20)(8839,0.07)(8841,-0.25)(8844,0.33)(8847,0.33)(8849,0.10)(8852,0.40)(8854,0.23)
(8856,0.42)(8859,-0.18)(8861,0.25)(8864,0.01)(8866,0.25)(8869,0.29)(8872,-0.05)(8874,-0.05)(8877,0.14)(8879,0.98)(8882,0.01)(8885,-0.24)(8887,-0.03)(8890,0.01)(8893,-0.01)(8895,-0.38)(8898,-0.03)(8900,0.38)(8903,0.01)(8906,-0.07)(8908,-0.27)(8911,-0.28)(8913,0.29)(8916,1.12)(8919,0.20)(8921,0.08)(8924,0.23)(8926,0.29)(8929,0.08)(8932,-0.06)(8934,0.40)(8937,0.46)(8939,0.20)(8942,0.25)(8945,0.53)(8947,0.46)(8950,0.38)(8952,0.33)(8955,0.44)(8958,0.16)(8960,0.31)(8963,0.14)(8966,0.01)(8968,0.31)(8971,0.72)(8973,0.14)(8976,0.61)(8979,0.03)(8981,0.14)(8984,0.20)(8986,0.01)(8989,-0.09)(8992,0.01)(8994,1.73)(8997,1.32)(8999,0.61)(9002,0.12)(9005,0.06)(9007,0.14)(9010,0.29)(9012,0.27)(9015,0.18)(9018,0.25)(9020,0.23)(9023,-0.12)(9026,-0.16)(9028,0.12)(9031,-0.33)(9033,0.23)(9036,0.44)(9039,0.76)(9041,1.29)(9044,0.98)(9046,0.52)(9049,0.38)(9052,0.27)(9054,0.40)(9057,-0.16)(9059,0.31)(9062,0.14)(9065,0.31)(9067,0.33)(9070,0.23)(9072,0.01)(9075,0.16)(9078,-0.05)(9080,-0.08)(9083,-0.44)(9086,0.22)(9088,0.68)(9091,0.20)(9093,0.01)(9096,0.12)(9099,0.01)(9101,0.27)(9104,0.20)(9106,0.16)(9109,0.01)(9112,0.18)(9114,-0.37)(9117,-0.01)(9119,0.08)(9122,0.10)(9125,0.01)(9127,-0.07)(9130,0.01)(9132,-0.07)(9135,0.27)(9138,0.25)(9140,0.01)(9143,-0.18)(9145,-0.05)(9148,0.27)(9151,0.29)(9153,0.27)(9156,0.01)(9159,-0.46)(9161,-0.14)(9164,-0.07)(9166,-0.14)(9169,-0.10)(9172,0.14)(9174,-0.12)(9177,0.12)(9179,-0.10)(9182,0.01)(9185,-0.18)(9187,-0.31)(9190,-0.07)(9192,0.05)(9195,0.01)(9198,0.23)(9200,0.23)(9203,0.07)(9205,-0.03)(9208,-0.07)(9211,0.16)(9213,0.31)(9216,-0.14)(9219,0.01)(9221,-0.03)(9224,0.12)(9226,-0.14)(9229,0.05)(9232,0.12)(9234,-0.14)(9237,0.25)(9239,0.12)(9242,0.25)(9245,0.03)(9247,0.33)(9250,0.01)(9252,0.27)(9255,0.18)(9258,0.03)(9260,0.23)(9263,0.16)(9265,0.01)(9268,0.29)(9271,0.18)(9273,0.01)(9276,-0.01)(9278,-0.40)(9281,-0.61)(9284,-0.08)(9286,-0.18)(9289,0.01)(9291,-0.14)(9294,0.16)(9297,0.12)(9299,-0.08)
};
\end{axis}
\end{tikzpicture}
\end{document}
